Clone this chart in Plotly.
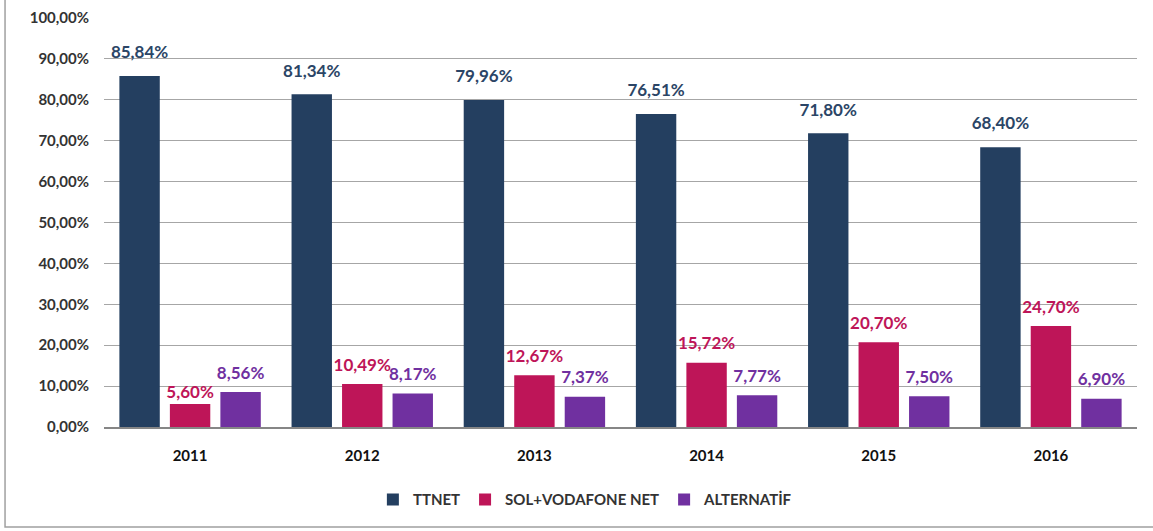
import plotly.graph_objects as go

years = ["2011", "2012", "2013", "2014", "2015", "2016"]
ttnet = [85.84, 81.34, 79.96, 76.51, 71.80, 68.40]
sol_vodafone = [5.60, 10.49, 12.67, 15.72, 20.70, 24.70]
alternatif = [8.56, 8.17, 7.37, 7.77, 7.50, 6.90]
series_names = ["TTNET", "SOL+VODAFONE NET", "ALTERNATİF"]
colors = ["#243F60", "#BE1558", "#7030A0"]
label_colors = ["#2B4566", "#BE1558", "#7030A0"]
# invisible marker sizes used only to set the gap between label and bar top
label_gap_sizes = [[20] * 6, [1, 13, 13, 13, 13, 13], [13] * 6]


def fmt(v):
    return f"{v:.2f}".replace(".", ",") + "%"


fig = go.Figure()
for name, vals, c in zip(series_names, [ttnet, sol_vodafone, alternatif], colors):
    fig.add_trace(go.Bar(
        x=years, y=vals, name=name,
        marker=dict(color=c, line=dict(width=0)),
        hoverinfo="skip", offsetgroup=name,
    ))

for name, vals, lc, sz in zip(series_names, [ttnet, sol_vodafone, alternatif], label_colors, label_gap_sizes):
    fig.add_trace(go.Scatter(
        x=years, y=vals, mode="markers+text",
        text=[fmt(v) for v in vals], textposition="top center",
        textfont=dict(family="Lato", size=17, color=lc, weight="bold"),
        marker=dict(size=sz, opacity=0),
        showlegend=False, hoverinfo="skip", cliponaxis=False,
        offsetgroup=name,
    ))

fig.update_layout(
    width=1153, height=531,
    separators=",.",
    paper_bgcolor="white", plot_bgcolor="white",
    margin=dict(l=104, r=16, t=18, b=104, autoexpand=False),
    barmode="group", bargap=0.12, bargroupgap=0.2,
    scattermode="group", scattergap=0.12,
    font=dict(family="Lato", size=15, color="#333333"),
    showlegend=True,
    legend=dict(orientation="h", x=0.466, xanchor="center", y=-0.178, yanchor="middle",
                font=dict(family="Lato", size=15, color="#333333", weight="bold"),
                itemwidth=30, traceorder="normal"),
    xaxis=dict(showgrid=False, ticks="", tickfont=dict(family="Lato", size=15, color="#111111", weight="bold"),
               showline=True, linecolor="#868686", linewidth=2, ticklabelstandoff=14),
    yaxis=dict(range=[0, 100], dtick=10, tickformat=".2f", ticksuffix="%",
               showgrid=True, gridcolor="#A6A6A6", gridwidth=1, zeroline=False,
               tickfont=dict(family="Lato", size=15, color="#333333", weight="bold"),
               ticks="", ticklabelstandoff=14),
    shapes=[dict(type="rect", xref="paper", yref="paper",
                 x0=-0.0958, x1=1.2, y0=-0.2445, y1=1.2,
                 line=dict(color="#A0A0A0", width=1.5), fillcolor="rgba(0,0,0,0)", layer="below")],
)

fig.write_html("out.html", config={"displayModeBar": False},
               post_script="document.body.style.margin='0';")
